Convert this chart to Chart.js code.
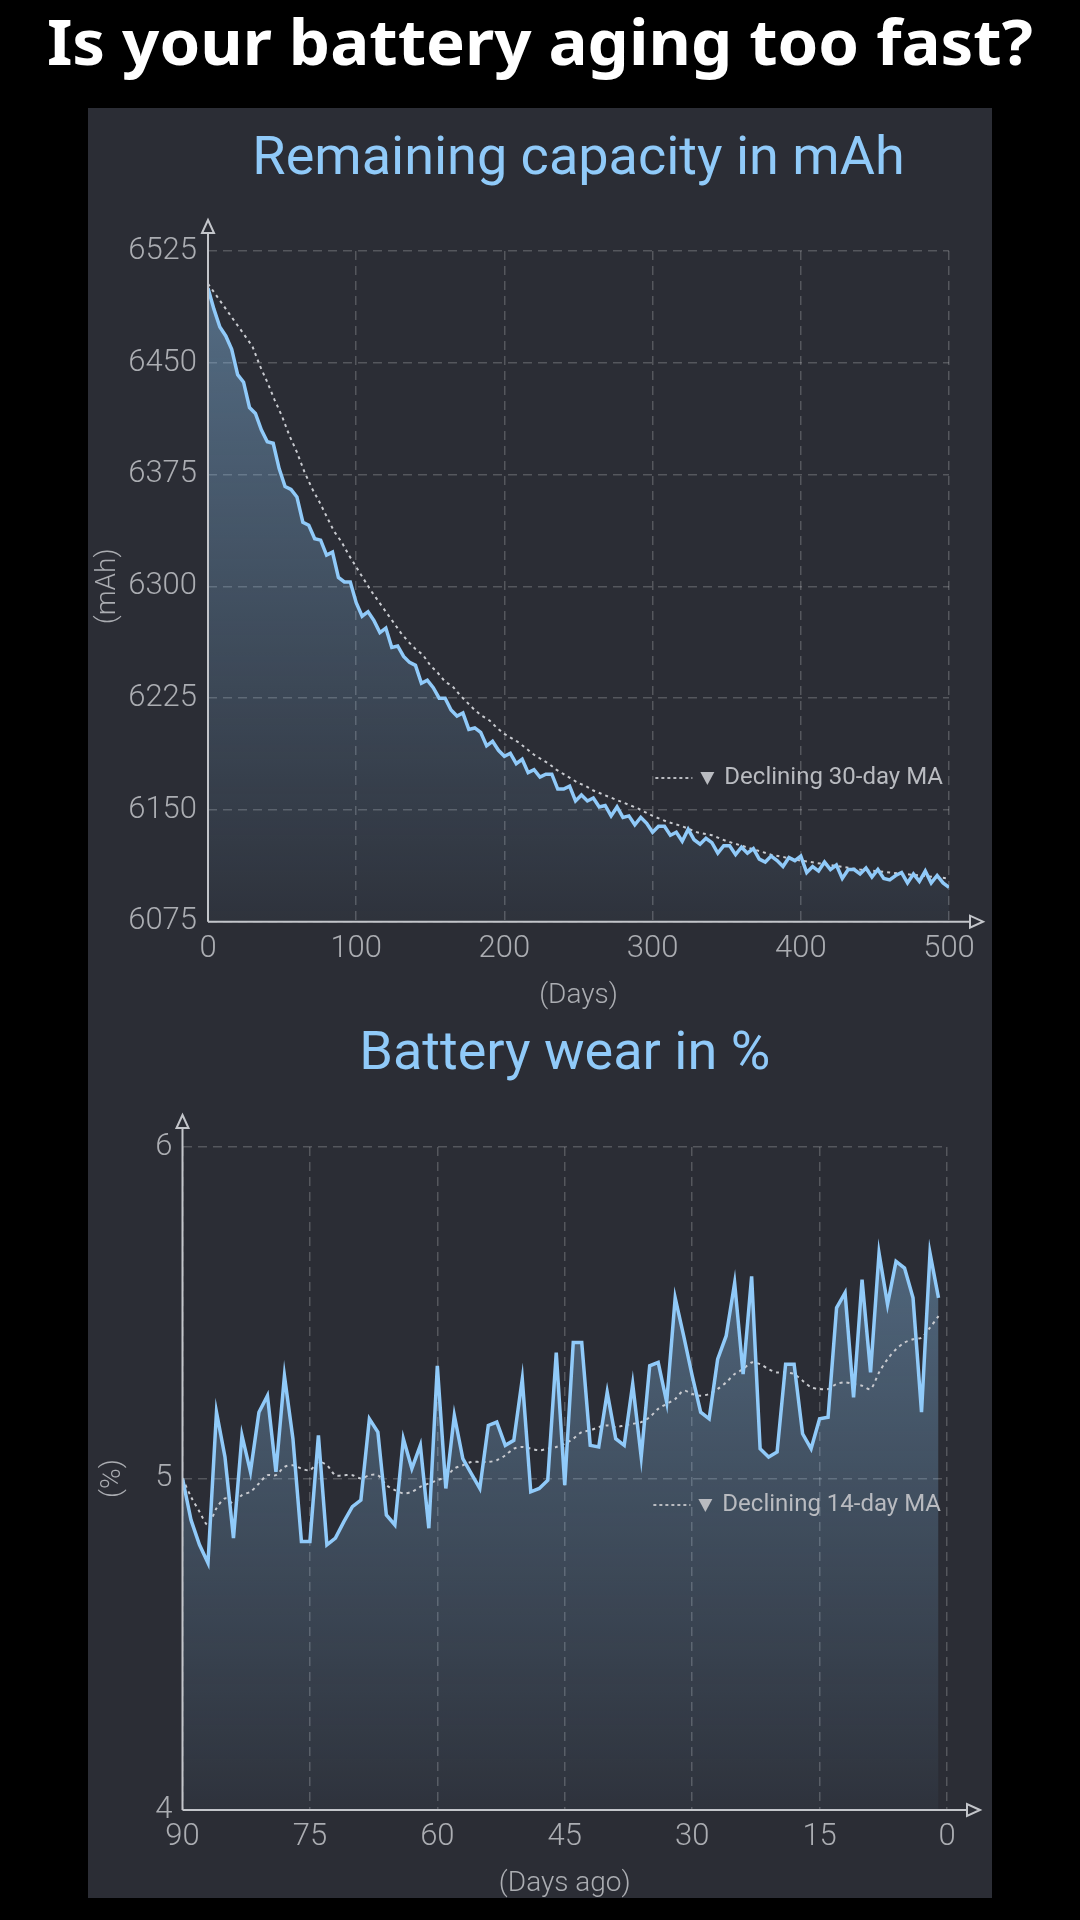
<!DOCTYPE html>
<html><head><meta charset="utf-8">
<script src="https://cdn.jsdelivr.net/npm/chart.js@4.4.0/dist/chart.umd.min.js"></script>
<style>
html,body{margin:0;padding:0;background:#000;width:1080px;height:1920px;overflow:hidden;}
#headline{position:absolute;left:0;top:-4px;width:1080px;height:90px;line-height:90px;text-align:center;color:#fff;font-family:"Noto Sans",sans-serif;font-weight:700;font-size:62px;white-space:nowrap;}
#headline span{display:inline-block;transform-origin:center center;}
#panel{position:absolute;left:88px;top:108px;width:904px;height:1790px;background:#2b2d35;}
canvas{position:absolute;left:88px;}
#c1{top:108px;}
#c2{top:1020px;}
</style></head>
<body>
<div id="headline"><span id="hl">Is your battery aging too fast?</span></div>
<div id="panel"></div>
<canvas id="c1" width="904" height="912"></canvas>
<canvas id="c2" width="904" height="878"></canvas>
<script>
// ---------- Chart 1: remaining capacity ----------
const capDays = [0,4,8,12,16,20,24,28,32,36,40,44,48,52,56,60,64,68,72,76,80,84,88,92,96,100,104,108,112,116,120,124,128,132,136,140,144,148,152,156,160,164,168,172,176,180,184,188,192,196,200,204,208,212,216,220,224,228,232,236,240,244,248,252,256,260,264,268,272,276,280,284,288,292,296,300,304,308,312,316,320,324,328,332,336,340,344,348,352,356,360,364,368,372,376,380,384,388,392,396,400,404,408,412,416,420,424,428,432,436,440,444,448,452,456,460,464,468,472,476,480,484,488,492,496,500];
const capValues = [6500,6486,6474,6468,6459,6442,6437,6420,6416,6405,
 6397,6396,6379,6367,6365,6360,6343,6341,6332,6331,
 6321,6323,6306,6303,6303,6289,6280,6283,6277,6269,
 6272,6259,6260,6253,6249,6247,6235,6237,6232,6225,
 6225,6217,6213,6215,6204,6205,6202,6193,6196,6190,
 6186,6188,6181,6184,6175,6177,6172,6174,6174,6164,
 6164,6166,6156,6160,6156,6158,6152,6153,6146,6152,
 6145,6146,6140,6145,6141,6135,6139,6139,6133,6135,
 6129,6137,6130,6127,6131,6128,6121,6126,6126,6120,
 6125,6121,6124,6117,6115,6119,6116,6112,6118,6116,
 6119,6108,6112,6109,6115,6110,6113,6104,6110,6110,
 6107,6111,6105,6110,6104,6103,6106,6108,6101,6107,
 6102,6109,6101,6106,6101,6098];
const capMaDays = [0,30,35,40,45,50,55,60,65,70,75,80,85,90,95,100,105,110,115,120,125,130,135,140,145,150,155,160,165,170,175,180,185,190,195,200,205,210,215,220,225,230,235,240,245,250,255,260,265,270,275,280,290,300,310,320,330,340,350,360,370,380,390,400,420,440,460,480,500];
const capMaValues = [6503,6461,6448,6437,6425,6414,6401,6390,6377,6366,6357,6347,6337,6330,6321,6313,6305,6297,6290,6283,6276,6269,6263,6258,6254,6247,6242,6236,6233,6227,6222,6217,6213,6210,6205,6201,6198,6195,6191,6187,6184,6181,6177,6174,6171,6168,6166,6163,6161,6159,6157,6155,6151,6146,6142,6139,6135,6133,6129,6126,6123,6120,6118,6116,6113,6110,6108,6106,6104];
const capYTicks = {min:6075, max:6525, step:75};
const capXTicks = {min:0, max:500, step:100};

// ---------- Chart 2: battery wear ----------
const wearDaysAgo = [90,89,88,87,86,85,84,83,82,81,80,79,78,77,76,75,74,73,72,71,70,69,68,67,66,65,64,63,62,61,60,59,58,57,56,55,54,53,52,51,50,49,48,47,46,45,44,43,42,41,40,39,38,37,36,35,34,33,32,31,30,29,28,27,26,25,24,23,22,21,20,19,18,17,16,15,14,13,12,11,10,9,8,7,6,5,4,3,2,1];
const wearValues = [5.00,4.875,4.80,4.745,5.20,5.065,4.82,5.13,5.02,5.20,
 5.25,5.02,5.31,5.12,4.81,4.81,5.13,4.80,4.82,4.87,
 4.915,4.935,5.18,5.14,4.89,4.86,5.12,5.03,5.10,4.85,
 5.34,4.97,5.19,5.06,5.015,4.97,5.16,5.17,5.10,5.115,
 5.30,4.96,4.97,4.995,5.38,4.98,5.41,5.41,5.10,5.095,
 5.26,5.12,5.10,5.285,5.065,5.34,5.35,5.23,5.545,5.43,
 5.31,5.20,5.18,5.36,5.43,5.59,5.315,5.61,5.09,5.065,
 5.08,5.345,5.345,5.135,5.09,5.18,5.185,5.515,5.56,5.245,
 5.60,5.32,5.68,5.525,5.655,5.635,5.545,5.20,5.68,5.545];
const wearMaValues = [5.00,4.945,4.90,4.86,4.91,4.94,4.925,4.95,4.96,4.985,
 5.01,5.01,5.035,5.04,5.03,5.025,5.05,5.04,5.01,5.01,
 5.01,5.00,5.01,5.01,4.98,4.965,4.955,4.96,4.975,4.985,
 4.995,5.005,5.03,5.04,5.05,5.05,5.05,5.055,5.07,5.09,
 5.095,5.09,5.085,5.09,5.095,5.105,5.12,5.14,5.145,5.155,
 5.16,5.155,5.16,5.165,5.17,5.185,5.21,5.225,5.24,5.265,
 5.255,5.25,5.255,5.27,5.29,5.315,5.33,5.35,5.345,5.33,
 5.32,5.32,5.315,5.295,5.275,5.27,5.27,5.285,5.29,5.285,
 5.28,5.27,5.32,5.36,5.39,5.41,5.42,5.425,5.455,5.49];
const wearYTicks = {min:4, max:6, step:1};
const wearXTicks = {min:0, max:90, step:15};

// ---------- headline fit ----------
(function(){
  const s = document.getElementById('hl');
  const w = s.getBoundingClientRect().width;
  s.style.transform = 'scaleX(' + (986 / w) + ')';
})();

Chart.defaults.font.family = 'Roboto';
Chart.defaults.color = '#a9abb1';

const LINE = '#90caf9';
const GRID = 'rgba(255,255,255,0.2)';
const AXIS = '#c3c5ca';
const LEG = '#b9bbc0';
const TICK = '#abadb2';

function areaGradient(ctx){
  const chart = ctx.chart, ca = chart.chartArea;
  if(!ca) return 'rgba(144,202,249,0.2)';
  const g = chart.ctx.createLinearGradient(0, ca.top, 0, ca.bottom);
  g.addColorStop(0, 'rgba(144,202,249,0.42)');
  g.addColorStop(1, 'rgba(144,202,249,0.04)');
  return g;
}

const decor = {
  id: 'decor',
  afterDraw(chart, args, o){
    const c = chart.ctx, ca = chart.chartArea;
    c.save();
    // chart title
    c.fillStyle = LINE;
    c.font = '400 54px Roboto';
    c.textAlign = 'center'; c.textBaseline = 'middle';
    c.fillText(o.title, (ca.left + ca.right) / 2, o.titleY);
    // axes with hollow arrow heads
    c.strokeStyle = AXIS; c.lineWidth = 2; c.setLineDash([]);
    const tipY = ca.top - o.yArrow;
    c.beginPath(); c.moveTo(ca.left, ca.bottom); c.lineTo(ca.left, tipY + 13); c.stroke();
    c.beginPath(); c.moveTo(ca.left, tipY); c.lineTo(ca.left - 6, tipY + 13); c.lineTo(ca.left + 6, tipY + 13); c.closePath(); c.stroke();
    const tipX = ca.right + o.xArrow;
    c.beginPath(); c.moveTo(ca.left, ca.bottom); c.lineTo(tipX - 13, ca.bottom); c.stroke();
    c.beginPath(); c.moveTo(tipX, ca.bottom); c.lineTo(tipX - 13, ca.bottom - 6); c.lineTo(tipX - 13, ca.bottom + 6); c.closePath(); c.stroke();
    // legend
    c.font = '400 24px Roboto';
    c.textAlign = 'right'; c.textBaseline = 'middle';
    c.fillStyle = LEG;
    const tx = ca.right - 6;
    c.fillText(o.legend, tx, o.legendY);
    const w = c.measureText(o.legend).width;
    const triC = tx - w - 17;
    c.beginPath();
    c.moveTo(triC - 7, o.legendY - 6); c.lineTo(triC + 7, o.legendY - 6); c.lineTo(triC, o.legendY + 7);
    c.closePath(); c.fill();
    c.strokeStyle = LEG; c.lineWidth = 2; c.setLineDash([3, 3]);
    c.beginPath(); c.moveTo(triC - 15 - 37, o.legendY); c.lineTo(triC - 15, o.legendY); c.stroke();
    c.restore();
  }
};

function axisCommon(){
  return {
    grid: {color: GRID, lineWidth: 1.5, drawTicks: false},
    border: {display: false, dash: [9, 6]},
  };
}
const plainTick = v => String(v);

// Chart 1
new Chart(document.getElementById('c1'), {
  type: 'line',
  data: {datasets: [
    {label: 'Remaining capacity', data: capDays.map((d, i) => ({x: d, y: capValues[i]})),
     borderColor: LINE, borderWidth: 3.5, pointRadius: 0, tension: 0, fill: 'start', backgroundColor: areaGradient, order: 0},
    {label: 'Declining 30-day MA', data: capMaDays.map((d, i) => ({x: d, y: capMaValues[i]})),
     borderColor: '#c9cbd0', borderWidth: 2, borderDash: [3, 4], pointRadius: 0, tension: 0, fill: false, order: 1}
  ]},
  options: {
    responsive: false, animation: false, devicePixelRatio: 1,
    layout: {padding: {top: 143, right: 43, left: 0, bottom: 0}},
    plugins: {
      legend: {display: false}, tooltip: {enabled: false},
      filler: {drawTime: 'beforeDatasetsDraw'},
      decor: {title: 'Remaining capacity in mAh', titleY: 52, yArrow: 31, xArrow: 34, legend: 'Declining 30-day MA', legendY: 670}
    },
    scales: {
      x: Object.assign(axisCommon(), {
        type: 'linear', min: capXTicks.min, max: capXTicks.max,
        ticks: {stepSize: capXTicks.step, padding: 9, font: {size: 31, weight: 300}, color: TICK, callback: plainTick},
        title: {display: true, text: '(Days)', font: {size: 28, weight: 300, lineHeight: 1}, color: TICK, padding: {top: 0, bottom: 10}},
        afterFit: s => { s.height = 98.3; }
      }),
      y: Object.assign(axisCommon(), {
        min: capYTicks.min, max: capYTicks.max,
        ticks: {stepSize: capYTicks.step, padding: 11, font: {size: 31, weight: 300}, color: TICK, callback: plainTick},
        title: {display: true, text: '(mAh)', font: {size: 28, weight: 300, lineHeight: 1}, color: TICK, padding: {top: 6, bottom: 0}},
        afterFit: s => { s.width = 120; }
      })
    }
  },
  plugins: [decor]
});

// Chart 2
new Chart(document.getElementById('c2'), {
  type: 'line',
  data: {datasets: [
    {label: 'Battery wear', data: wearDaysAgo.map((d, i) => ({x: d, y: wearValues[i]})),
     borderColor: LINE, borderWidth: 3.5, pointRadius: 0, tension: 0, fill: 'start', backgroundColor: areaGradient, order: 0},
    {label: 'Declining 14-day MA', data: wearDaysAgo.map((d, i) => ({x: d, y: wearMaValues[i]})),
     borderColor: '#c9cbd0', borderWidth: 2, borderDash: [3, 4], pointRadius: 0, tension: 0.3, fill: false, order: 1}
  ]},
  options: {
    responsive: false, animation: false, devicePixelRatio: 1,
    layout: {padding: {top: 127, right: 45, left: 0, bottom: 0}},
    plugins: {
      legend: {display: false}, tooltip: {enabled: false},
      filler: {drawTime: 'beforeDatasetsDraw'},
      decor: {title: 'Battery wear in %', titleY: 35, yArrow: 32, xArrow: 33, legend: 'Declining 14-day MA', legendY: 485}
    },
    scales: {
      x: Object.assign(axisCommon(), {
        type: 'linear', reverse: true, min: wearXTicks.min, max: wearXTicks.max,
        ticks: {stepSize: wearXTicks.step, padding: 9, font: {size: 31, weight: 300}, color: TICK, callback: plainTick},
        title: {display: true, text: '(Days ago)', font: {size: 28, weight: 300, lineHeight: 1}, color: TICK, padding: {top: 0, bottom: 0}},
        afterFit: s => { s.height = 88; }
      }),
      y: Object.assign(axisCommon(), {
        min: wearYTicks.min, max: wearYTicks.max,
        ticks: {stepSize: wearYTicks.step, padding: 10, font: {size: 31, weight: 300}, color: TICK, callback: plainTick},
        title: {display: true, text: '(%)', font: {size: 28, weight: 300, lineHeight: 1}, color: TICK, padding: {top: 11, bottom: 0}},
        afterFit: s => { s.width = 94.5; }
      })
    }
  },
  plugins: [decor]
});
</script>
</body></html>
